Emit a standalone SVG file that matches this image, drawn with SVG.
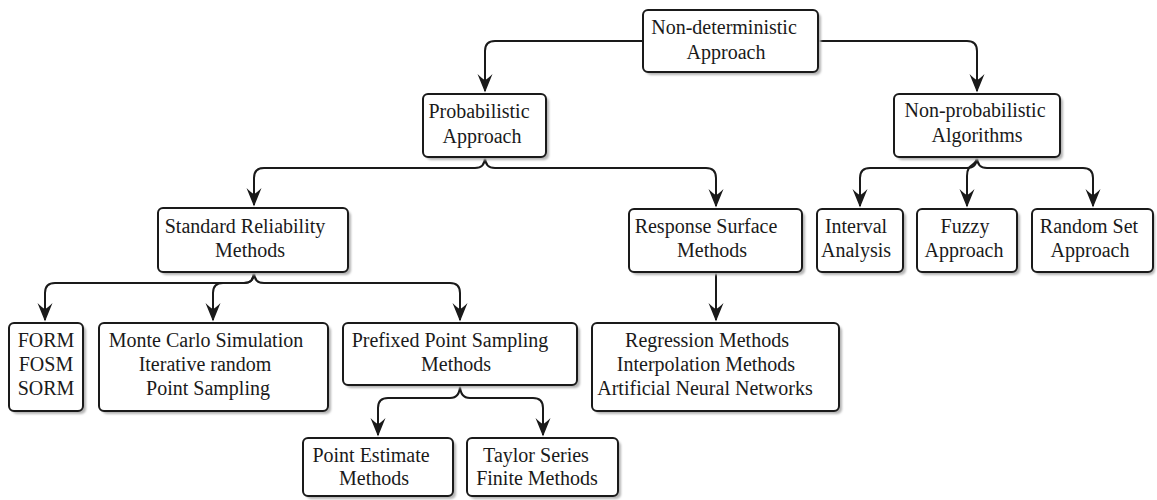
<svg xmlns="http://www.w3.org/2000/svg" width="1157" height="500" viewBox="0 0 1157 500">
<defs>
<filter id="sh" x="-10%" y="-10%" width="130%" height="130%"><feGaussianBlur stdDeviation="1.2"/></filter>
<marker id="ah" markerUnits="userSpaceOnUse" markerWidth="22" markerHeight="18" refX="0" refY="0" viewBox="-19 -9 21 18" orient="auto" overflow="visible">
<path d="M1.5,0 L-17,-7.5 Q-12,-2.5 -11,0 Q-12,2.5 -17,7.5 Z" fill="#1a1a1a"/>
</marker>
<style>
.bx{fill:#fff;stroke:#1a1a1a;stroke-width:2}
.sd{fill:#b4b4b4;filter:url(#sh)}
.t{font-size:20px;fill:#1a1a1a;text-anchor:middle}
.c{fill:none;stroke:#1a1a1a;stroke-width:2;marker-end:url(#ah)}
</style>
</defs>
<rect width="1157" height="500" fill="#fff"/>
<g id="connectors">
<path class="c" d="M643,41 H495 Q485,41 485,51 V91"/>
<path class="c" d="M818,41 H967 Q977,41 977,51 V91"/>
<path class="c" d="M485,157 Q485,168 475,168 H264 Q254,168 254,178 V205"/>
<path class="c" d="M485,157 Q485,168 495,168 H706 Q716,168 716,178 V206"/>
<path class="c" d="M977,157 Q977,168 967,168 H870 Q860,168 860,178 V206"/>
<path class="c" d="M977,157 C977,167 967,162 967,176 V206"/>
<path class="c" d="M977,157 Q977,168 987,168 H1083 Q1093,168 1093,178 V206"/>
<path class="c" d="M254,272 Q254,283 244,283 H55 Q45,283 45,293 V320"/>
<path class="c" d="M254,272 Q254,283 244,283 H223 Q213,283 213,293 V320"/>
<path class="c" d="M254,272 Q254,283 264,283 H450 Q460,283 460,293 V320"/>
<path class="c" d="M716,272 V320"/>
<path class="c" d="M460,385 Q460,398 450,398 H388 Q378,398 378,408 V435"/>
<path class="c" d="M460,385 Q460,398 470,398 H533 Q543,398 543,408 V435"/>
</g>
<g font-family="'Liberation Serif', 'Times New Roman', 'DejaVu Serif', serif">
<g id="root"><rect class="sd" x="646" y="13" width="175" height="62" rx="5"/><rect class="bx" x="643" y="10" width="175" height="62" rx="5"/><text class="t" x="724" y="34">Non-deterministic</text><text class="t" x="726" y="59">Approach</text></g>
<g id="probabilistic"><rect class="sd" x="426" y="97" width="123" height="63" rx="5"/><rect class="bx" x="423" y="94" width="123" height="63" rx="5"/><text class="t" x="479" y="118">Probabilistic</text><text class="t" x="482" y="143">Approach</text></g>
<g id="nonprobabilistic"><rect class="sd" x="897" y="97" width="166" height="63" rx="5"/><rect class="bx" x="894" y="94" width="166" height="63" rx="5"/><text class="t" x="975" y="117">Non-probabilistic</text><text class="t" x="977" y="142">Algorithms</text></g>
<g id="standard"><rect class="sd" x="161" y="211" width="190" height="64" rx="5"/><rect class="bx" x="158" y="208" width="190" height="64" rx="5"/><text class="t" x="245" y="233">Standard Reliability</text><text class="t" x="250" y="257">Methods</text></g>
<g id="response"><rect class="sd" x="632" y="212" width="173" height="63" rx="5"/><rect class="bx" x="629" y="209" width="173" height="63" rx="5"/><text class="t" x="706" y="233">Response Surface</text><text class="t" x="712" y="257">Methods</text></g>
<g id="interval"><rect class="sd" x="820" y="212" width="86" height="63" rx="5"/><rect class="bx" x="817" y="209" width="86" height="63" rx="5"/><text class="t" x="856" y="233">Interval</text><text class="t" x="856" y="257">Analysis</text></g>
<g id="fuzzy"><rect class="sd" x="920" y="212" width="100" height="63" rx="5"/><rect class="bx" x="917" y="209" width="100" height="63" rx="5"/><text class="t" x="965" y="233">Fuzzy</text><text class="t" x="964" y="257">Approach</text></g>
<g id="randomset"><rect class="sd" x="1035" y="212" width="120" height="63" rx="5"/><rect class="bx" x="1032" y="209" width="121" height="63" rx="5"/><text class="t" x="1089" y="233">Random Set</text><text class="t" x="1090" y="257">Approach</text></g>
<g id="form"><rect class="sd" x="12" y="326" width="74" height="88" rx="5"/><rect class="bx" x="9" y="323" width="74" height="88" rx="5"/><text class="t" x="46" y="347">FORM</text><text class="t" x="46" y="371">FOSM</text><text class="t" x="46" y="395">SORM</text></g>
<g id="montecarlo"><rect class="sd" x="102" y="326" width="229" height="88" rx="5"/><rect class="bx" x="99" y="323" width="229" height="88" rx="5"/><text class="t" x="206" y="347">Monte Carlo Simulation</text><text class="t" x="205" y="371">Iterative random</text><text class="t" x="208" y="395">Point Sampling</text></g>
<g id="prefixed"><rect class="sd" x="346" y="326" width="234" height="62" rx="5"/><rect class="bx" x="343" y="323" width="234" height="62" rx="5"/><text class="t" x="450" y="347">Prefixed Point Sampling</text><text class="t" x="456" y="371">Methods</text></g>
<g id="regression"><rect class="sd" x="595" y="326" width="247" height="88" rx="5"/><rect class="bx" x="592" y="323" width="247" height="88" rx="5"/><text class="t" x="707" y="347">Regression Methods</text><text class="t" x="706" y="371">Interpolation Methods</text><text class="t" x="705" y="395">Artificial Neural Networks</text></g>
<g id="pointestimate"><rect class="sd" x="306" y="441" width="150" height="58" rx="5"/><rect class="bx" x="303" y="438" width="150" height="58" rx="5"/><text class="t" x="371" y="462">Point Estimate</text><text class="t" x="374" y="485">Methods</text></g>
<g id="taylor"><rect class="sd" x="470" y="441" width="151" height="58" rx="5"/><rect class="bx" x="467" y="438" width="151" height="58" rx="5"/><text class="t" x="536" y="462">Taylor Series</text><text class="t" x="537" y="485">Finite Methods</text></g>
</g>
</svg>
